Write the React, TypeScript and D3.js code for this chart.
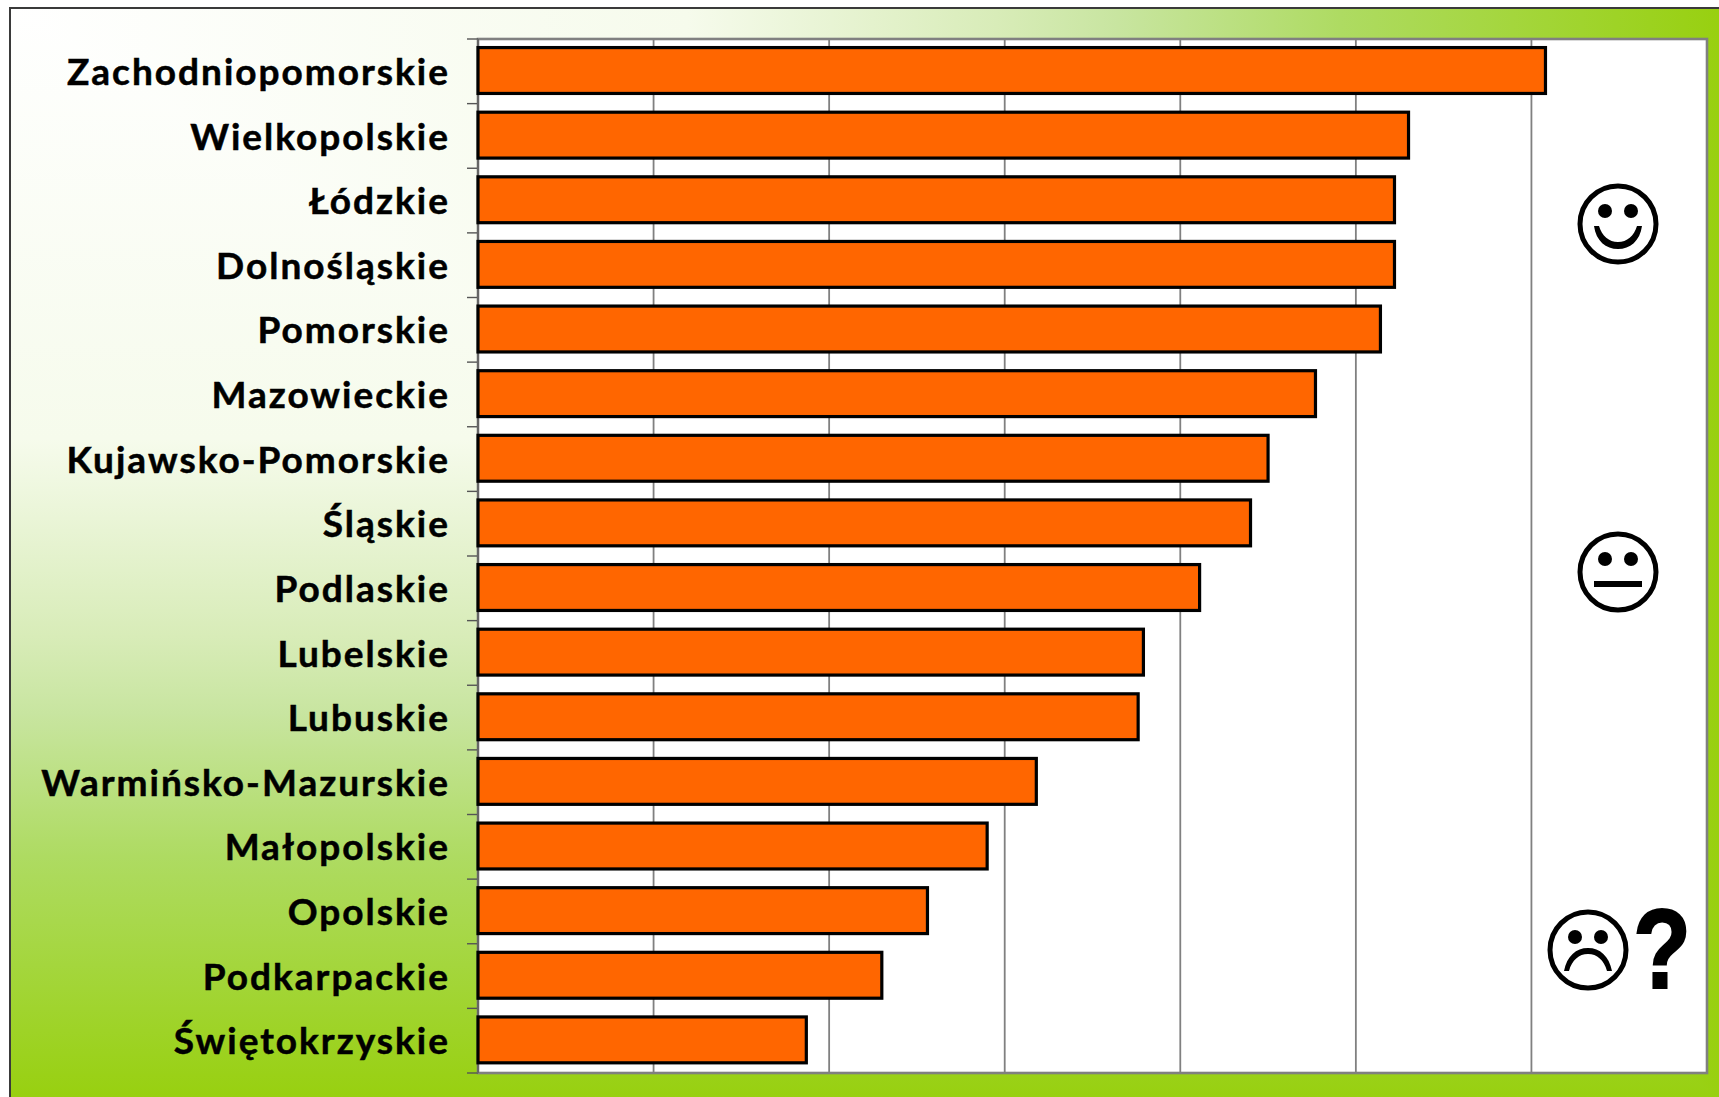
import React, { useEffect, useRef } from 'react';
import * as d3 from 'd3';

const regions = [
  'Zachodniopomorskie', 'Wielkopolskie', 'Łódzkie', 'Dolnośląskie',
  'Pomorskie', 'Mazowieckie', 'Kujawsko-Pomorskie', 'Śląskie',
  'Podlaskie', 'Lubelskie', 'Lubuskie', 'Warmińsko-Mazurskie',
  'Małopolskie', 'Opolskie', 'Podkarpackie', 'Świętokrzyskie',
];
const values = [
  6.08, 5.30, 5.22, 5.22,
  5.14, 4.77, 4.50, 4.40,
  4.11, 3.79, 3.76, 3.18,
  2.90, 2.56, 2.30, 1.87,
];
const gridTicks = [0, 1, 2, 3, 4, 5, 6, 7];
const bgStops: [number, string][] = [
  [0, '#ffffff'], [0.4, '#f6fbec'], [0.58, '#d8ecb8'],
  [0.65, '#c8e5a0'], [0.78, '#aedb62'], [1, '#98d010'],
];

const W = 1719;
const H = 1097;
const plot = { left: 478, right: 1707, top: 39, bottom: 1073 };

export default function App() {
  const svgRef = useRef<SVGSVGElement>(null);

  useEffect(() => {
    if (!svgRef.current) return;
    const svg = d3.select(svgRef.current);
    svg.selectAll('*').remove();

    // Background: corner gradient, vertical rect with a horizontal triangle on top
    const defs = svg.append('defs');
    const addGrad = (id: string, x2: number, y2: number) => {
      const grad = defs.append('linearGradient')
        .attr('id', id)
        .attr('gradientUnits', 'userSpaceOnUse')
        .attr('x1', 0).attr('y1', 0).attr('x2', x2).attr('y2', y2);
      bgStops.forEach(([o, c]) => grad.append('stop').attr('offset', o).attr('stop-color', c));
    };
    addGrad('bgH', W, 0);
    addGrad('bgV', 0, H);

    svg.append('rect').attr('width', W).attr('height', H).attr('fill', 'url(#bgV)');
    svg.append('path').attr('d', `M0,0 L${W},0 L${W},${H} Z`).attr('fill', 'url(#bgH)');
    // white outside the frame
    svg.append('rect').attr('width', W).attr('height', 8).attr('fill', '#fff');
    svg.append('rect').attr('width', 10).attr('height', H).attr('fill', '#fff');
    svg.append('rect')
      .attr('x', 10).attr('y', 8)
      .attr('width', W).attr('height', H)
      .attr('fill', 'none')
      .attr('stroke', '#3a3a3a')
      .attr('stroke-width', 2);

    const xScale = d3.scaleLinear().domain([0, 7]).range([plot.left, plot.right]);
    const yScale = d3.scaleBand()
      .domain(regions)
      .range([plot.top - 0.8, plot.bottom - 0.8])
      .paddingInner(0.29)
      .paddingOuter(0.145);

    // Plot area
    svg.append('rect')
      .attr('x', plot.left).attr('y', plot.top)
      .attr('width', plot.right - plot.left).attr('height', plot.bottom - plot.top)
      .attr('fill', '#fff');

    svg.append('g').selectAll('line')
      .data(gridTicks.slice(1, -1))
      .enter().append('line')
      .attr('x1', d => xScale(d)).attr('x2', d => xScale(d))
      .attr('y1', plot.top).attr('y2', plot.bottom)
      .style('stroke', '#808080')
      .style('stroke-width', 1.8);

    svg.append('rect')
      .attr('x', plot.left).attr('y', plot.top)
      .attr('width', plot.right - plot.left).attr('height', plot.bottom - plot.top)
      .attr('fill', 'none')
      .style('stroke', '#808080')
      .style('stroke-width', 2.6);

    // Ticks between categories
    const step = yScale.step();
    svg.append('g').selectAll('line')
      .data(d3.range(regions.length + 1))
      .enter().append('line')
      .attr('x1', plot.left - 11).attr('x2', plot.left)
      .attr('y1', i => plot.top + i * step).attr('y2', i => plot.top + i * step)
      .style('stroke', '#555')
      .style('stroke-width', 1.4);

    svg.append('line')
      .attr('x1', plot.left).attr('x2', plot.left)
      .attr('y1', plot.top).attr('y2', plot.bottom)
      .style('stroke', '#666')
      .style('stroke-width', 2);

    // Bars
    svg.append('g').selectAll('rect')
      .data(regions)
      .enter().append('rect')
      .attr('x', plot.left)
      .attr('y', d => yScale(d)!)
      .attr('width', (d, i) => xScale(values[i]) - plot.left)
      .attr('height', yScale.bandwidth())
      .style('fill', '#ff6600')
      .style('stroke', '#000')
      .style('stroke-width', 3.2);

    // Category labels
    svg.append('g').selectAll('text')
      .data(regions)
      .enter().append('text')
      .attr('x', 450)
      .attr('y', d => yScale(d)! + yScale.bandwidth() / 2)
      .attr('dy', '0.39em')
      .attr('text-anchor', 'end')
      .style('font-family', 'Lato, sans-serif')
      .style('font-size', '37px')
      .style('font-weight', '700')
      .style('letter-spacing', '2px')
      .style('stroke', '#000')
      .style('stroke-width', 0.5)
      .style('fill', '#000')
      .text(d => d);

    // Faces
    const face = (cx: number, cy: number, mood: 'happy' | 'neutral' | 'sad') => {
      const g = svg.append('g').attr('transform', `translate(${cx},${cy})`);
      g.append('circle').attr('r', 38).attr('fill', '#fff').attr('stroke', '#000').attr('stroke-width', 5);
      g.append('circle').attr('cx', -13).attr('cy', -13).attr('r', 7);
      g.append('circle').attr('cx', 13).attr('cy', -13).attr('r', 7);
      if (mood === 'happy') {
        g.append('path').attr('d', 'M-24,2 L-19,2 C-16,12 -9,18 0,18 C9,18 16,12 19,2 L24,2 C22,17 12,25 0,25 C-12,25 -22,17 -24,2 Z');
      } else if (mood === 'neutral') {
        g.append('rect').attr('x', -24).attr('y', 9).attr('width', 48).attr('height', 6);
      } else {
        g.append('path').attr('d', 'M-24,21 C-21,6 -12,-2 0,-2 C12,-2 21,6 24,21 L19,21 C16,10 9,4 0,4 C-9,4 -16,10 -19,21 Z');
      }
    };
    face(1618, 224, 'happy');
    face(1618, 572, 'neutral');
    face(1588, 950, 'sad');

    svg.append('text')
      .attr('transform', 'translate(1662,988) scale(0.84,1)')
      .attr('text-anchor', 'middle')
      .style('font-family', 'Liberation Sans, sans-serif')
      .style('font-size', '113px')
      .style('font-weight', '700')
      .style('stroke', '#000')
      .style('stroke-width', 2)
      .style('fill', '#000')
      .text('?');
  }, []);

  return (
    <svg
      ref={svgRef}
      width={W}
      height={H}
      style={{ position: 'absolute', left: 0, top: 0, display: 'block' }}
    />
  );
}
